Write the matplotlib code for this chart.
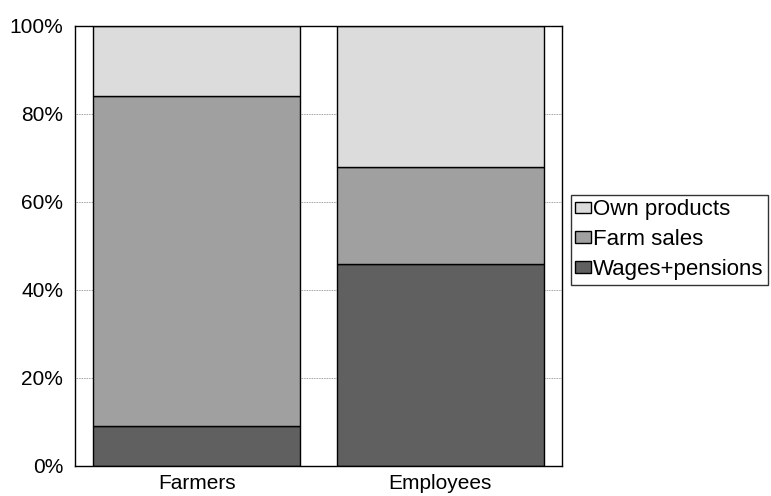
import matplotlib.pyplot as plt
import numpy as np

plt.rcParams['font.family'] = ['Liberation Sans', 'DejaVu Sans']

# Share of income by source (%)
groups = ['Farmers', 'Employees']
wages_pensions = [9, 46]
farm_sales = [75, 22]
own_products = [16, 32]

fig = plt.figure(figsize=(7.71, 4.96), dpi=100)
ax = fig.add_axes([0.0973, 0.0605, 0.6317, 0.8871])

x = np.arange(len(groups))
w = 0.85
b1 = ax.bar(x, wages_pensions, w, color='#606060', edgecolor='black', linewidth=1,
            label='Wages+pensions', zorder=2)
b2 = ax.bar(x, farm_sales, w, bottom=wages_pensions, color='#a0a0a0', edgecolor='black',
            linewidth=1, label='Farm sales', zorder=2)
bottom2 = np.array(wages_pensions) + np.array(farm_sales)
b3 = ax.bar(x, own_products, w, bottom=bottom2, color='#dcdcdc', edgecolor='black',
            linewidth=1, label='Own products', zorder=2)

ax.set_xlim(-0.5, 1.5)
ax.set_ylim(0, 100)
ax.set_yticks(np.arange(0, 101, 20))
ax.set_yticklabels([f'{v}%' for v in range(0, 101, 20)], fontsize=15)
ax.set_xticks(x)
ax.set_xticklabels(groups, fontsize=15)
ax.tick_params(axis='y', length=0, pad=8.5)
ax.tick_params(axis='x', length=0, pad=6)
ax.yaxis.grid(True, color='#808080', linestyle=(0, (1, 1)), linewidth=0.6, zorder=0)
for s in ax.spines.values():
    s.set_color('black')
    s.set_linewidth(1)

leg = fig.legend([b3, b2, b1], ['Own products', 'Farm sales', 'Wages+pensions'],
                 loc='upper left', bbox_to_anchor=(571 / 771, 1 - 195 / 496),
                 fontsize=16, frameon=True, fancybox=False, edgecolor='black',
                 handlelength=0.68, handleheight=0.45, handletextpad=0.1,
                 borderpad=0.2, labelspacing=0.4, borderaxespad=0)
leg.get_frame().set_linewidth(1)

fig.savefig('out.png', dpi=100)
